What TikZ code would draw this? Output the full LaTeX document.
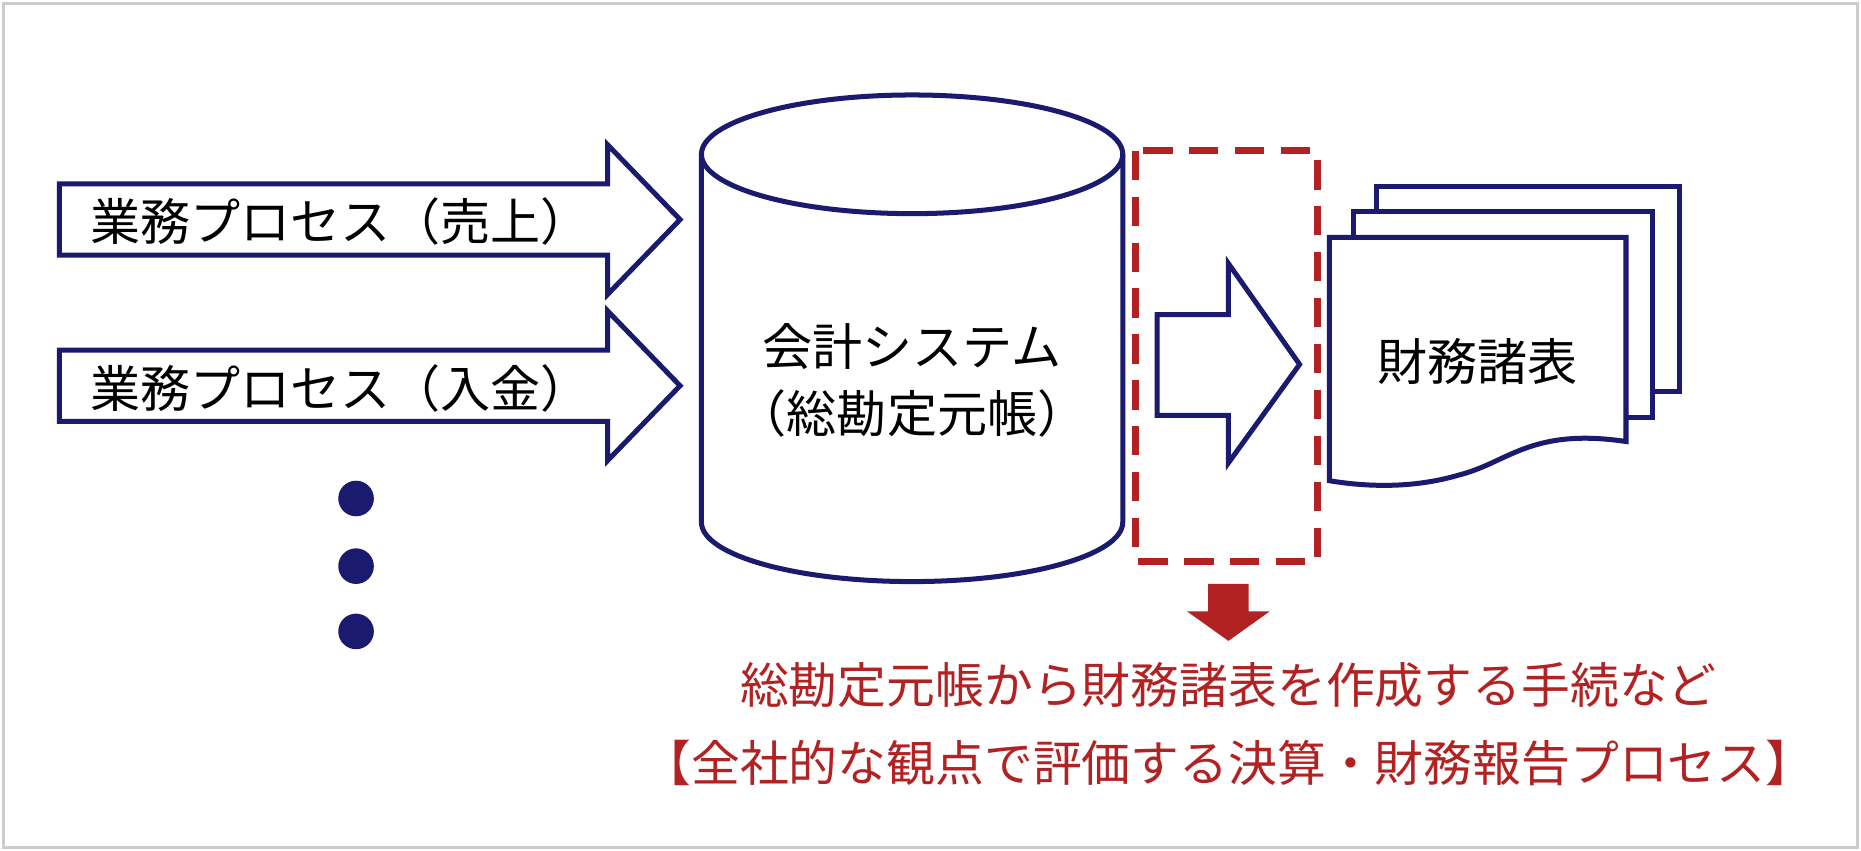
\documentclass[tikz,border=0pt]{standalone}
\usepackage{fontspec}
\setmainfont{Noto Sans CJK JP}
\usetikzlibrary{positioning}
\definecolor{navy}{HTML}{1A1A6E}
\definecolor{darkred}{HTML}{B22222}

\begin{document}
\begin{tikzpicture}[x=0.01cm, y=-0.01cm,
    outline/.style={draw=navy, line width=1.2pt, fill=white},
    label/.style={font=\fontsize{12pt}{14pt}\selectfont, inner sep=0pt},
    note/.style={font=\fontsize{11.7pt}{13pt}\selectfont, text=darkred, inner sep=0pt}
]
\useasboundingbox (0,0) rectangle (1568,717);
\draw[gray!40, line width=0.6pt] (3,3) rectangle (1565,714);

% input arrows
\draw[outline] (50,155) -- (512,155) -- (512,122) -- (573,185) -- (512,248) -- (512,215) -- (50,215) -- cycle;
\node[label] (sales) at (287,187) {業務プロセス（売上）};
\draw[outline] (50,295) -- (512,295) -- (512,262) -- (573,325) -- (512,388) -- (512,355) -- (50,355) -- cycle;
\node[label] (cash) at (287,327) {業務プロセス（入金）};
\fill[navy] (300,420) circle (15) (300,477) circle (15) (300,532) circle (15);

% accounting system
\draw[outline] (591,130) -- (591,440) arc[start angle=180, end angle=0, x radius=177.5, y radius=50] -- (946,130);
\draw[outline] (768.5,130) ellipse[x radius=177.5, y radius=50];
\node[label] (sys) at (768.5,292) {会計システム};
\node[label, below=16pt of sys.center, anchor=center] (ledger) {（総勘定元帳）};

% closing process
\draw[darkred, line width=1.6pt, dash pattern=on 7pt off 4pt] (957,127) rectangle (1110,473);
\draw[outline] (975,265) -- (1035,265) -- (1035,222) -- (1095,307) -- (1035,390) -- (1035,350) -- (975,350) -- cycle;

% financial statements
\draw[outline] (1160,157) rectangle (1415,330);
\draw[outline] (1140,178) rectangle (1392,352);
\draw[outline] (1120,200) -- (1370,200) -- (1370,372)
  .. controls (1290,360) and (1270,390) .. (1230,400)
  .. controls (1190,412) and (1150,410) .. (1120,405) -- cycle;
\node[label] (fs) at (1245,305) {財務諸表};

% note
\fill[darkred] (1018,492) -- (1052,492) -- (1052,515) -- (1070,515) -- (1035,540) -- (1000,515) -- (1018,515) -- cycle;
\node[note] (n1) at (1035,577) {総勘定元帳から財務諸表を作成する手続など};
\node[note] (n2) at (1035,643) {【全社的な観点で評価する決算・財務報告プロセス】};
\end{tikzpicture}
\end{document}
